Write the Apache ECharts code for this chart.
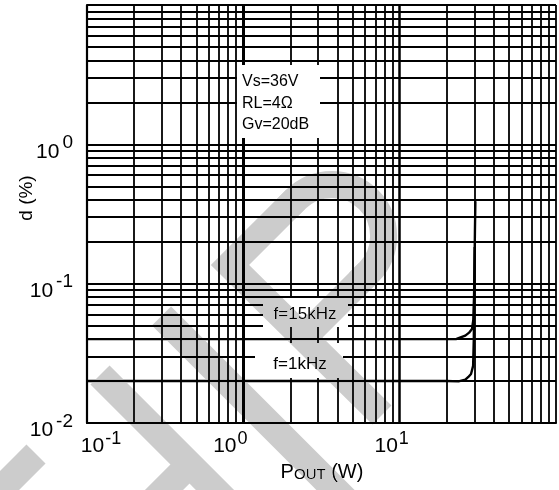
<!DOCTYPE html>
<html><head><meta charset="utf-8">
<script src="https://cdn.jsdelivr.net/npm/echarts@6/dist/echarts.min.js"></script>
<style>html,body{margin:0;padding:0;background:#fff}#c{width:559px;height:490px}</style>
</head><body><div id="c"></div>
<script>
// ---- data ----
const xTicks = [0.1, 1, 10, 100];
const xTickExp = ['-1', '0', '1', ''];
const yTicks = [0.01, 0.1, 1, 10];
const yTickExp = ['-2', '-1', '0', ''];
const xDecades = [0.1, 1, 10];
const yDecades = [0.01, 0.1, 1];
const f15kPout = [0.1, 1, 10, 20, 23.1, 26.3, 27.8, 29.0, 29.6, 29.9, 30.1, 30.3, 30.5];
const f15kTHD  = [0.04, 0.04, 0.04, 0.04, 0.0401, 0.0424, 0.0445, 0.0473, 0.055, 0.08, 0.13, 0.24, 0.39];
const f1kPout  = [0.1, 1, 10, 20, 23.8, 26.3, 27.5, 28.6, 29.5, 29.8, 30.0, 30.2];
const f1kTHD   = [0.02, 0.02, 0.02, 0.02, 0.0199, 0.0205, 0.0214, 0.0225, 0.0257, 0.04, 0.09, 0.183];
const condText = ['Vs=36V', 'RL=4Ω', 'Gv=20dB'];
const seriesNames = ['f=15kHz', 'f=1kHz'];

const FONT = '"Liberation Sans", Arial, Helvetica, sans-serif';
const chart = echarts.init(document.getElementById('c'), null, {renderer: 'canvas'});

function gridVals(decades) {
  const out = [];
  decades.forEach(d => { for (let m = 1; m <= 9; m++) out.push(+(d * m).toPrecision(6)); });
  out.push(+(decades[decades.length - 1] * 10).toPrecision(6));
  return out;
}
const xGrid = gridVals(xDecades);
const yGrid = gridVals(yDecades);

const markData = [];
xGrid.forEach(v => {
  const dec = xTicks.indexOf(v);
  markData.push({xAxis: v, lineStyle: {width: dec === 1 ? 3 : (dec === 2 ? 2.5 : 1.8)}});
});
yGrid.forEach(v => markData.push({yAxis: v, lineStyle: {width: 1.8}}));

function idx(v, ticks) {
  return ticks.findIndex(t => Math.abs(Math.log10(t) - Math.log10(v)) < 1e-6);
}

const xRich = {
  b0: {fontSize: 21, lineHeight: 22, verticalAlign: 'bottom', padding: [0, 0, 0, 28], fontFamily: FONT, color: '#000'},
  b1: {fontSize: 21, lineHeight: 22, verticalAlign: 'bottom', fontFamily: FONT, color: '#000'},
  b2: {fontSize: 21, lineHeight: 22, verticalAlign: 'bottom', fontFamily: FONT, color: '#000'},
  s0: {fontSize: 18, lineHeight: 18, verticalAlign: 'bottom', padding: [0, 0, 9, 1], fontFamily: FONT, color: '#000'},
  s1: {fontSize: 18, lineHeight: 18, verticalAlign: 'bottom', padding: [0, 26, 9, 1], fontFamily: FONT, color: '#000'},
  s2: {fontSize: 18, lineHeight: 18, verticalAlign: 'bottom', padding: [0, 16, 9, 1], fontFamily: FONT, color: '#000'}
};
const yRich = {
  b: {fontSize: 21, lineHeight: 22, verticalAlign: 'bottom', fontFamily: FONT, color: '#000'},
  s: {fontSize: 19, lineHeight: 19, verticalAlign: 'bottom', padding: [0, 0, 10, 3], fontFamily: FONT, color: '#000'}
};

const WM = {fill: 'none', stroke: '#cccccc', lineWidth: 27, lineCap: 'butt', lineJoin: 'miter', blend: 'darken'};
const D2R = Math.PI / 180;

const option = {
  animation: false,
  backgroundColor: '#fff',
  grid: {left: 87, right: 1, top: 5, bottom: 67, containLabel: false},
  xAxis: {
    type: 'log', logBase: 10, min: xTicks[0], max: xTicks[xTicks.length - 1],
    axisLine: {show: true, lineStyle: {color: '#000', width: 2.2}},
    axisTick: {show: false}, splitLine: {show: false},
    axisLabel: {
      margin: 12,
      formatter: v => { const i = idx(v, xTicks); return (i < 0 || !xTickExp[i]) ? '' : `{b${i}|10}{s${i}|${xTickExp[i]}}`; },
      rich: xRich
    }
  },
  yAxis: {
    type: 'log', logBase: 10, min: yTicks[0], max: yTicks[yTicks.length - 1],
    axisLine: {show: true, lineStyle: {color: '#000', width: 2.2}},
    axisTick: {show: false}, splitLine: {show: false},
    axisLabel: {
      margin: 14, padding: [14, 0, 0, 0],
      formatter: v => { const i = idx(v, yTicks); return (i < 0 || !yTickExp[i]) ? '' : `{b|10}{s|${yTickExp[i]}}`; },
      rich: yRich
    }
  },
  series: [
    {
      name: 'grid', type: 'line', data: [[xTicks[0], yTicks[0]]], showSymbol: false, silent: true, z: 1,
      lineStyle: {width: 0},
      markLine: {
        silent: true, symbol: ['none', 'none'], label: {show: false}, animation: false,
        lineStyle: {color: '#000', type: 'solid', width: 1.8},
        data: markData
      }
    },
    {
      name: seriesNames[0], type: 'line', showSymbol: false, z: 3,
      lineStyle: {color: '#000', width: 2.4},
      data: f15kPout.map((p, i) => [p, f15kTHD[i]])
    },
    {
      name: seriesNames[1], type: 'line', showSymbol: false, z: 3,
      lineStyle: {color: '#000', width: 2.4},
      data: f1kPout.map((p, i) => [p, f1kTHD[i]])
    }
  ],
  graphic: [
    {type: 'rect', z: 50, silent: true, shape: {x: 237, y: 65, width: 83, height: 73}, style: {fill: '#fff'}},
    {type: 'rect', z: 50, silent: true, shape: {x: 263, y: 298, width: 85, height: 29}, style: {fill: '#fff'}},
    {type: 'rect', z: 50, silent: true, shape: {x: 255, y: 343, width: 88, height: 35}, style: {fill: '#fff'}},
    {type: 'text', z: 51, silent: true, x: 242, y: 82, style: {text: condText[0], fontSize: 16, fontFamily: FONT, fill: '#000', align: 'left', verticalAlign: 'middle'}},
    {type: 'text', z: 51, silent: true, x: 242, y: 104, style: {text: condText[1], fontSize: 16, fontFamily: FONT, fill: '#000', align: 'left', verticalAlign: 'middle'}},
    {type: 'text', z: 51, silent: true, x: 242, y: 125, style: {text: condText[2], fontSize: 16, fontFamily: FONT, fill: '#000', align: 'left', verticalAlign: 'middle'}},
    {type: 'text', z: 51, silent: true, x: 305, y: 314, style: {text: seriesNames[0], fontSize: 17, fontFamily: FONT, fill: '#000', align: 'center', verticalAlign: 'middle'}},
    {type: 'text', z: 51, silent: true, x: 300, y: 364, style: {text: seriesNames[1], fontSize: 17, fontFamily: FONT, fill: '#000', align: 'center', verticalAlign: 'middle'}},
    {type: 'text', z: 51, silent: true, x: 27, y: 198, rotation: Math.PI / 2,
      style: {text: 'd (%)', fontSize: 19, fontFamily: FONT, fill: '#000', align: 'center', verticalAlign: 'middle'}},
    {type: 'text', z: 51, silent: true, x: 322, y: 471,
      style: {text: '{a|P}{c|OUT}{a| (W)}', fontFamily: FONT, fill: '#000', align: 'center', verticalAlign: 'middle',
        rich: {a: {fontSize: 20, lineHeight: 22, verticalAlign: 'bottom', fontFamily: FONT, color: '#000'},
               c: {fontSize: 15, lineHeight: 17, verticalAlign: 'bottom', fontFamily: FONT, color: '#000'}}}},
    // watermark (decoration)
    {type: 'polyline', z: 100, silent: true, shape: {points: [[382, 415], [230, 265], [296, 199]]}, style: WM},
    {type: 'arc', z: 100, silent: true, shape: {cx: 332, cy: 236, r: 51.6, startAngle: 225 * D2R, endAngle: 405 * D2R, clockwise: true},
      style: Object.assign({}, WM, {lineCap: 'square'})},
    {type: 'polyline', z: 100, silent: true, shape: {points: [[368.5, 272.5], [303, 338]]}, style: WM},
    {type: 'polyline', z: 100, silent: true, shape: {points: [[161.5, 316], [352, 506.5]]}, style: WM},
    {type: 'polyline', z: 100, silent: true, shape: {points: [[100, 375], [232, 507]]}, style: WM},
    {type: 'polyline', z: 100, silent: true, shape: {points: [[192, 462], [150, 504]]}, style: WM},
    {type: 'polyline', z: 100, silent: true, shape: {points: [[-12, 502], [36, 454]]}, style: WM}
  ]
};
chart.setOption(option);
</script>
</body></html>
